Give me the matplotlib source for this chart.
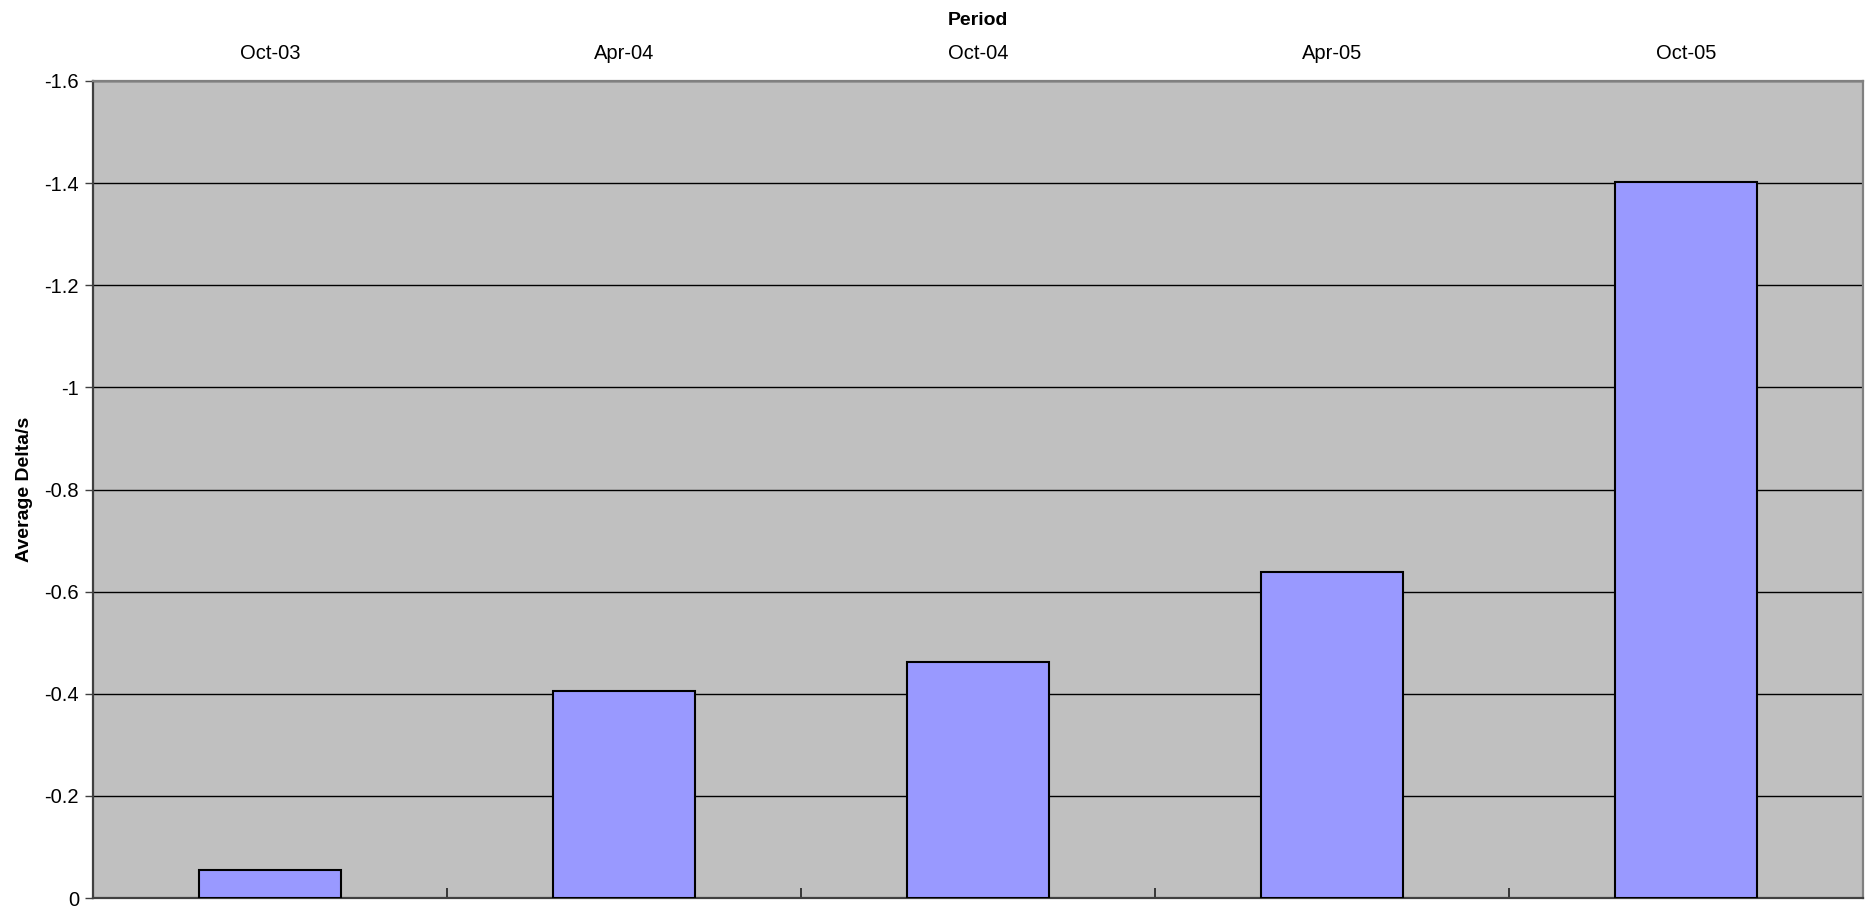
import numpy as np
import matplotlib.pyplot as plt
from matplotlib.ticker import FixedLocator, FuncFormatter

periods = ["Oct-03", "Apr-04", "Oct-04", "Apr-05", "Oct-05"]
avg_delta = [-0.055, -0.406, -0.462, -0.638, -1.402]
y_ticks = [0, -0.2, -0.4, -0.6, -0.8, -1.0, -1.2, -1.4, -1.6]

plt.rcParams["font.family"] = ["Liberation Sans", "DejaVu Sans"]

fig = plt.figure(figsize=(18.71, 9.09), dpi=100)
ax = fig.add_axes([93 / 1871, 1 - 898 / 909, (1863 - 93) / 1871, (898 - 81) / 909])
ax.set_facecolor("#c0c0c0")

x = np.arange(len(periods))
ax.bar(x, avg_delta, width=0.4, color="#9999ff", edgecolor="black",
       linewidth=1.5, zorder=3)

ax.set_xlim(-0.5, len(periods) - 0.5)
ax.set_ylim(0, -1.6)  # negative values plotted upward
ax.yaxis.set_major_locator(FixedLocator(y_ticks))
ax.yaxis.set_major_formatter(FuncFormatter(lambda v, p: "0" if abs(v) < 1e-9 else f"{v:g}"))
ax.grid(axis="y", color="black", linewidth=1.0, zorder=1)
ax.set_axisbelow(True)

# category labels on top, divider ticks along the bottom
ax.xaxis.set_ticks_position("top")
ax.xaxis.set_label_position("top")
ax.set_xticks(x)
ax.set_xticklabels(periods)
ax.set_xticks(x[:-1] + 0.5, minor=True)
ax.tick_params(axis="x", which="major", length=0, pad=13, labelsize=14.5)
ax.tick_params(axis="x", which="minor", top=False, bottom=True,
               direction="in", length=7, width=1.2, color="#202020")
ax.tick_params(axis="y", which="major", length=6, width=1, color="#404040",
               labelsize=14.5, pad=4)

ax.set_xlabel("Period", fontsize=14, fontweight="bold", labelpad=14)
ax.set_ylabel("Average Delta/s", fontsize=14, fontweight="bold", labelpad=8)

ax.spines["left"].set_color("#404040")
ax.spines["left"].set_linewidth(1.6)
ax.spines["bottom"].set_color("#404040")
ax.spines["bottom"].set_linewidth(1.6)
ax.spines["top"].set_color("#808080")
ax.spines["top"].set_linewidth(1.6)
ax.spines["right"].set_color("#808080")
ax.spines["right"].set_linewidth(1.6)

fig.savefig("out.png", dpi=100)
